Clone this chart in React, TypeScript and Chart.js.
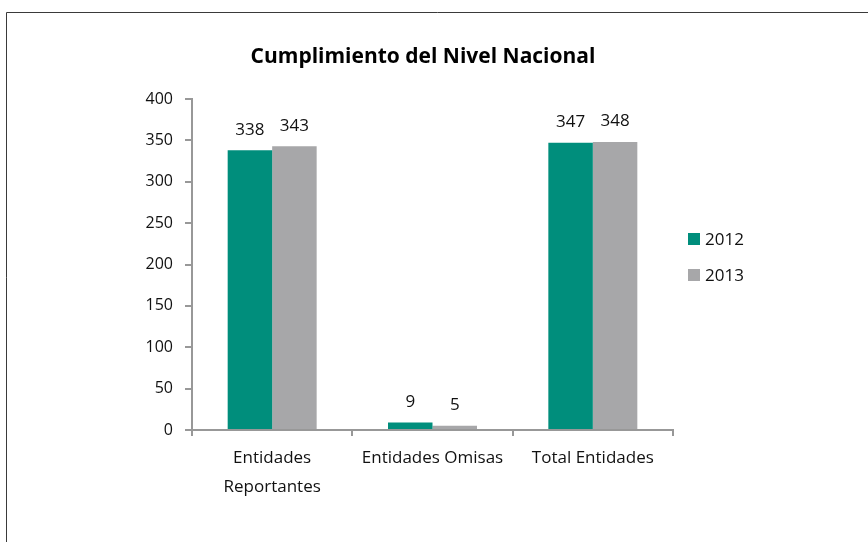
import React, { useEffect, useRef } from "react";
import { Chart, registerables } from "chart.js";

Chart.register(...registerables);

const categories: (string | string[])[] = [["Entidades", "Reportantes"], "Entidades Omisas", "Total Entidades"];
const values2012 = [338, 9, 347];
const values2013 = [343, 5, 348];
const seriesLabels = ["2012", "2013"];
const seriesColors = ["#008E7C", "#A7A7A9"];
const yTicks = [0, 50, 100, 150, 200, 250, 300, 350, 400];
const titleText = "Cumplimiento del Nivel Nacional";

const FONT = "'Open Sans', 'DejaVu Sans', sans-serif";
const AXIS = "#989898";

export default function App() {
  const ref = useRef<HTMLCanvasElement | null>(null);
  useEffect(() => {
    if (!ref.current) return;
    const borderPlugin = {
      id: "frame",
      beforeDraw(chart: any) {
        const c = chart.ctx;
        c.save();
        c.fillStyle = "#ffffff";
        c.fillRect(0, 0, chart.width, chart.height);
        c.strokeStyle = "#3a3a3a";
        c.lineWidth = 1;
        c.beginPath();
        c.moveTo(6.5, chart.height);
        c.lineTo(6.5, 12.5);
        c.lineTo(chart.width, 12.5);
        c.stroke();
        c.restore();
      },
    };
    const titlePlugin = {
      id: "mainTitle",
      afterDraw(chart: any) {
        const c = chart.ctx;
        c.save();
        c.font = `bold 21px ${FONT}`;
        c.fillStyle = "#000000";
        c.textAlign = "center";
        c.textBaseline = "middle";
        c.fillText(titleText, 423, 57);
        c.restore();
      },
    };
    const labelPlugin = {
      id: "valueLabels",
      afterDatasetsDraw(chart: any) {
        const c = chart.ctx;
        c.save();
        c.font = `17px ${FONT}`;
        c.fillStyle = "#111111";
        c.textAlign = "center";
        c.textBaseline = "bottom";
        chart.data.datasets.forEach((ds: any, i: number) => {
          const meta = chart.getDatasetMeta(i);
          meta.data.forEach((el: any, j: number) => {
            c.fillText(String(ds.data[j]), el.x, el.y - 12);
          });
        });
        c.restore();
      },
    };
    const legendPlugin = {
      id: "sideLegend",
      afterDraw(chart: any) {
        const c = chart.ctx;
        c.save();
        c.font = `17px ${FONT}`;
        c.textBaseline = "middle";
        c.textAlign = "left";
        chart.data.datasets.forEach((ds: any, i: number) => {
          const y = 239 + i * 36;
          c.fillStyle = ds.backgroundColor;
          c.fillRect(688, y - 6, 12, 12);
          c.fillStyle = "#111111";
          c.fillText(ds.label, 705, y + 1);
        });
        c.restore();
      },
    };
    const chart = new Chart(ref.current, {
      type: "bar",
      data: {
        labels: categories,
        datasets: [
          { label: seriesLabels[0], data: values2012, backgroundColor: seriesColors[0] },
          { label: seriesLabels[1], data: values2013, backgroundColor: seriesColors[1] },
        ],
      },
      options: {
        responsive: false,
        animation: false,
        devicePixelRatio: 1,
        layout: { padding: { left: 112, right: 195, top: 99, bottom: 42 } },
        datasets: { bar: { barPercentage: 1, categoryPercentage: 0.555 } },
        plugins: {
          legend: { display: false },
          tooltip: { enabled: false },
          title: { display: false },
        },
        scales: {
          x: {
            afterFit: (s: any) => { s.height = 70; },
            grid: { offset: true, drawOnChartArea: false, drawTicks: true, tickLength: 6, color: AXIS, lineWidth: 2 },
            border: { display: true, color: AXIS, width: 2 },
            ticks: { color: "#111111", font: { family: FONT, size: 17, lineHeight: 1.75 }, padding: 7, maxRotation: 0, autoSkip: false },
          },
          y: {
            min: 0,
            max: 400,
            afterFit: (s: any) => { s.width = 80; },
            afterBuildTicks: (s: any) => { s.ticks = yTicks.map((v) => ({ value: v })); },
            grid: { drawOnChartArea: false, drawTicks: true, tickLength: 7, color: AXIS, lineWidth: 2 },
            border: { display: true, color: AXIS, width: 2 },
            ticks: { color: "#111111", font: { family: FONT, size: 16 }, padding: 12 },
          },
        },
      },
      plugins: [borderPlugin, titlePlugin, labelPlugin, legendPlugin],
    } as any);
    return () => chart.destroy();
  }, []);
  return (
    <div style={{ position: "fixed", left: 0, top: 0, width: 868, height: 542, overflow: "hidden", background: "#fff" }}>
      <canvas ref={ref} width={868} height={542} style={{ display: "block" }} />
    </div>
  );
}
